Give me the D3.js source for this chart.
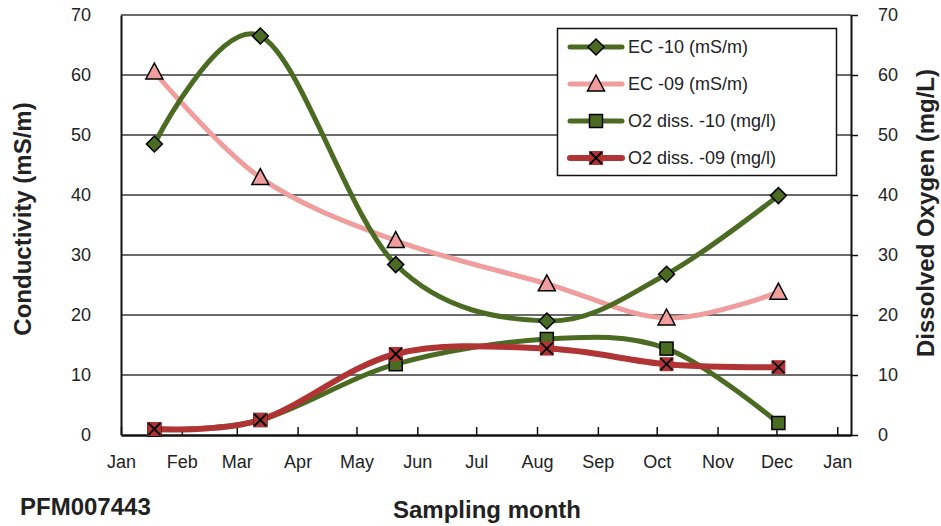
<!DOCTYPE html>
<html>
<head>
<meta charset="utf-8">
<script src="https://cdn.jsdelivr.net/npm/d3@7"></script>
<style>
  body { margin: 0; background: #fff; }
  svg { display: block; font-family: "Liberation Sans", Arial, sans-serif; }
</style>
</head>
<body>
<div id="chart"></div>
<script>
// sampling dates and measured values
const sampleDates = ["2009-01-18", "2009-03-13", "2009-05-21", "2009-08-06", "2009-10-06", "2009-12-02"];
const ec10 = [48.5, 66.5, 28.4, 19.0, 26.8, 39.9];
const ec09 = [60.5, 42.9, 32.4, 25.2, 19.5, 23.8];
const o2diss10 = [0.9, 2.5, 11.8, 16.0, 14.4, 2.0];
const o2diss09 = [1.0, 2.5, 13.5, 14.4, 11.8, 11.3];
const seriesNames = ["EC -10 (mS/m)", "EC -09 (mS/m)", "O2 diss. -10 (mg/l)", "O2 diss. -09 (mg/l)"];
const yTicks = [0, 10, 20, 30, 40, 50, 60, 70];

const width = 941;
const height = 526;
const margin = { top: 15, right: 90, bottom: 91, left: 121 };

const green = "#4a6b21";
const pink = "#f09d9d";
const red = "#b13434";

const svg = d3.select("#chart")
    .append("svg")
    .attr("width", width)
    .attr("height", height);

const parse = d3.timeParse("%Y-%m-%d");
const dates = sampleDates.map(parse);

const x = d3.scaleTime()
    .domain([parse("2009-01-01"), parse("2010-01-08")])
    .range([margin.left, width - margin.right]);

const yLeft = d3.scaleLinear()
    .domain([0, 70])
    .range([height - margin.bottom, margin.top]);

const yRight = d3.scaleLinear()
    .domain([0, 70])
    .range([height - margin.bottom, margin.top]);

const x0 = margin.left, x1 = width - margin.right;
const yb = height - margin.bottom;

// gridlines
svg.append("g")
    .selectAll("line")
    .data(yTicks.slice(1))
    .enter()
    .append("line")
    .attr("x1", x0)
    .attr("x2", x1)
    .attr("y1", d => yLeft(d))
    .attr("y2", d => yLeft(d))
    .attr("stroke", "#3a3a3a")
    .attr("stroke-width", 1.5);

// left axis
const leftAxis = svg.append("g")
    .attr("transform", `translate(${x0},0)`)
    .call(d3.axisLeft(yLeft).tickValues(yTicks).tickSize(0).tickPadding(30));
leftAxis.select(".domain").attr("stroke", "#111").attr("stroke-width", 2);
leftAxis.selectAll("text")
    .attr("font-size", 18)
    .attr("fill", "#222")
    .attr("font-family", "Liberation Sans, Arial, sans-serif");

// right axis
const rightAxis = svg.append("g")
    .attr("transform", `translate(${x1},0)`)
    .call(d3.axisRight(yRight).tickValues(yTicks).tickSize(7).tickSizeOuter(0).tickPadding(20));
rightAxis.select(".domain").attr("stroke", "#111").attr("stroke-width", 2);
rightAxis.selectAll(".tick line").attr("stroke", "#111").attr("stroke-width", 1.5);
rightAxis.selectAll("text")
    .attr("font-size", 18)
    .attr("fill", "#222")
    .attr("font-family", "Liberation Sans, Arial, sans-serif");

// bottom axis, ticks pointing inward
const bottomAxis = svg.append("g")
    .attr("transform", `translate(0,${yb})`)
    .call(d3.axisBottom(x)
        .ticks(d3.timeMonth.every(1))
        .tickFormat(d3.timeFormat("%b"))
        .tickSize(0)
        .tickPadding(20));
bottomAxis.select(".domain").attr("stroke", "#111").attr("stroke-width", 2.5);
bottomAxis.selectAll(".tick line")
    .attr("y2", -8)
    .attr("stroke", "#111")
    .attr("stroke-width", 1.5);
bottomAxis.selectAll("text")
    .attr("font-size", 18)
    .attr("fill", "#222")
    .attr("font-family", "Liberation Sans, Arial, sans-serif");

// series
const series = [
    { name: seriesNames[1], values: ec09, y: yLeft, color: pink, width: 5, marker: "triangle" },
    { name: seriesNames[0], values: ec10, y: yLeft, color: green, width: 5, marker: "diamond" },
    { name: seriesNames[2], values: o2diss10, y: yRight, color: green, width: 5, marker: "square" },
    { name: seriesNames[3], values: o2diss09, y: yRight, color: red, width: 6, marker: "cross" }
];

const line = yScale => d3.line()
    .x(d => x(d.date))
    .y(d => yScale(d.value))
    .curve(d3.curveCardinal.tension(0));

series.forEach(s => {
    s.points = dates.map((d, i) => ({ date: d, value: s.values[i] }));
    svg.append("path")
        .datum(s.points)
        .attr("fill", "none")
        .attr("stroke", s.color)
        .attr("stroke-width", s.width)
        .attr("stroke-linecap", "round")
        .attr("d", line(s.y));
});

function drawMarker(g, type, cx, cy) {
    if (type === "diamond") {
        g.append("path")
            .attr("d", `M${cx},${cy - 8}L${cx + 8},${cy}L${cx},${cy + 8}L${cx - 8},${cy}Z`)
            .attr("fill", green).attr("stroke", "#000").attr("stroke-width", 1.5);
    } else if (type === "triangle") {
        g.append("path")
            .attr("d", `M${cx},${cy - 9}L${cx + 8.5},${cy + 7}L${cx - 8.5},${cy + 7}Z`)
            .attr("fill", pink).attr("stroke", "#000").attr("stroke-width", 1.5);
    } else if (type === "square") {
        g.append("rect")
            .attr("x", cx - 6.5).attr("y", cy - 6.5)
            .attr("width", 13).attr("height", 13)
            .attr("fill", green).attr("stroke", "#000").attr("stroke-width", 1.5);
    } else {
        g.append("rect")
            .attr("x", cx - 7).attr("y", cy - 7)
            .attr("width", 14).attr("height", 14)
            .attr("fill", red);
        g.append("path")
            .attr("d", `M${cx - 6},${cy - 6}L${cx + 6},${cy + 6}M${cx + 6},${cy - 6}L${cx - 6},${cy + 6}`)
            .attr("stroke", "#000").attr("stroke-width", 1.8);
    }
}

const markerOrder = [series[1], series[0], series[2], series[3]];
markerOrder.forEach(s => {
    const g = svg.append("g");
    s.points.forEach(p => drawMarker(g, s.marker, x(p.date), s.y(p.value)));
});

// legend
const legend = svg.append("g");
legend.append("rect")
    .attr("x", 557.5).attr("y", 28.5)
    .attr("width", 279).attr("height", 147)
    .attr("fill", "#fff")
    .attr("stroke", "#111")
    .attr("stroke-width", 1.5);

const legendRows = [series[1], series[0], series[2], series[3]];
legendRows.forEach((s, i) => {
    const ly = 47 + i * 37;
    legend.append("line")
        .attr("x1", 570).attr("x2", 622)
        .attr("y1", ly).attr("y2", ly)
        .attr("stroke", s.color)
        .attr("stroke-width", s.width)
        .attr("stroke-linecap", "round");
    drawMarker(legend, s.marker, 596, ly);
    legend.append("text")
        .attr("x", 628)
        .attr("y", ly)
        .attr("dy", "0.35em")
        .attr("font-size", 18)
        .attr("fill", "#222")
        .text(s.name);
});

// titles
svg.append("text")
    .attr("transform", "rotate(-90)")
    .attr("x", -219)
    .attr("y", 31)
    .attr("text-anchor", "middle")
    .attr("font-size", 24)
    .attr("font-weight", "bold")
    .attr("fill", "#222")
    .text("Conductivity (mS/m)");

svg.append("text")
    .attr("transform", "rotate(-90)")
    .attr("x", -213)
    .attr("y", 934)
    .attr("text-anchor", "middle")
    .attr("font-size", 24)
    .attr("font-weight", "bold")
    .attr("fill", "#222")
    .text("Dissolved Oxygen (mg/L)");

svg.append("text")
    .attr("x", 487)
    .attr("y", 518)
    .attr("text-anchor", "middle")
    .attr("font-size", 24)
    .attr("font-weight", "bold")
    .attr("fill", "#222")
    .text("Sampling month");

svg.append("text")
    .attr("x", 20)
    .attr("y", 515)
    .attr("font-size", 24)
    .attr("font-weight", "bold")
    .attr("fill", "#222")
    .text("PFM007443");
</script>
</body>
</html>
